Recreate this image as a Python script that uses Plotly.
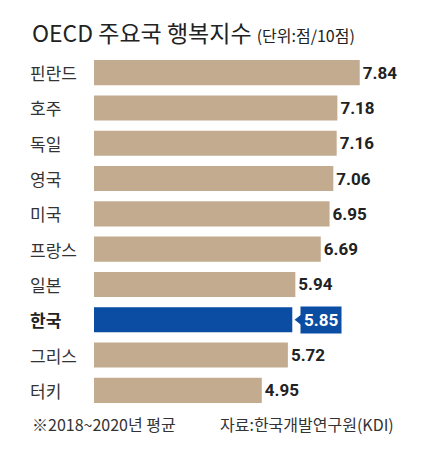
import plotly.graph_objects as go

# 데이터
countries = ['핀란드', '호주', '독일', '영국', '미국', '프랑스', '일본', '한국', '그리스', '터키']
scores = [7.84, 7.18, 7.16, 7.06, 6.95, 6.69, 5.94, 5.85, 5.72, 4.95]
highlight = '한국'

TAN = '#c2ab8e'
BLUE = '#0a4da3'
FONT = 'Noto Sans CJK KR'

colors = [BLUE if c == highlight else TAN for c in countries]
texts = ['' if c == highlight else f'{v:.2f}' for c, v in zip(countries, scores)]

fig = go.Figure()
fig.add_trace(go.Bar(
    y=countries,
    x=scores,
    orientation='h',
    marker=dict(color=colors, line=dict(width=0)),
    width=0.71,
    text=texts,
    textposition='outside',
    textfont=dict(family='Roboto', size=17, color='#222222', weight='bold'),
    cliponaxis=False,
    hoverinfo='skip',
))

# 한국 말풍선 꼬리
k = countries.index(highlight)
fig.add_trace(go.Scatter(
    x=[scores[k] + 0.2],
    y=[highlight],
    mode='markers',
    marker=dict(symbol='triangle-left', size=9, color=BLUE),
    hoverinfo='skip',
    cliponaxis=False,
))

fig.add_annotation(
    x=scores[k], y=highlight, xref='x', yref='y',
    text='<b>5.85</b>', showarrow=False,
    xanchor='left', xshift=8,
    font=dict(family='Roboto', size=17, color='white'),
    bgcolor=BLUE, borderpad=3,
)

# 국가 라벨 (왼쪽 정렬)
L = 86   # 페이지 기본 여백(8px) 고려
R = 8
W = 436 - L - R
X0 = -(L - 20) / W
for c in countries:
    txt = f'<b>{c}</b>' if c == highlight else c
    fig.add_annotation(
        x=X0, y=c, xref='paper', yref='y',
        text=txt, showarrow=False, xanchor='left',
        font=dict(family=FONT, size=17, color='#222222' if c == highlight else '#333333'),
    )

# 제목
fig.add_annotation(
    x=-(L - 22) / W, y=1, xref='paper', yref='paper', yshift=23,
    text='OECD 주요국 행복지수 <span style="font-size:16px">(단위:점/10점)</span>',
    showarrow=False, xanchor='left', yanchor='middle',
    font=dict(family=FONT, size=23, color='#222222'),
)

# 하단 주석
fig.add_annotation(
    x=-(L - 22) / W, y=0, xref='paper', yref='paper', yshift=-16,
    text='※2018~2020년 평균', showarrow=False, xanchor='left', yanchor='middle',
    font=dict(family=FONT, size=16, color='#333333'),
)
fig.add_annotation(
    x=(210 - L) / W, y=0, xref='paper', yref='paper', yshift=-16,
    text='자료:한국개발연구원(KDI)', showarrow=False, xanchor='left', yanchor='middle',
    font=dict(family=FONT, size=16, color='#333333'),
)

fig.update_layout(
    width=436, height=453,
    margin=dict(l=L, r=R, t=47, b=53),
    paper_bgcolor='white', plot_bgcolor='white',
    showlegend=False,
    xaxis=dict(range=[0, 10.09], visible=False, fixedrange=True),
    yaxis=dict(autorange='reversed', showticklabels=False, showgrid=False,
               zeroline=False, fixedrange=True),
    bargap=0.29,
)

fig.write_html('out.html')
